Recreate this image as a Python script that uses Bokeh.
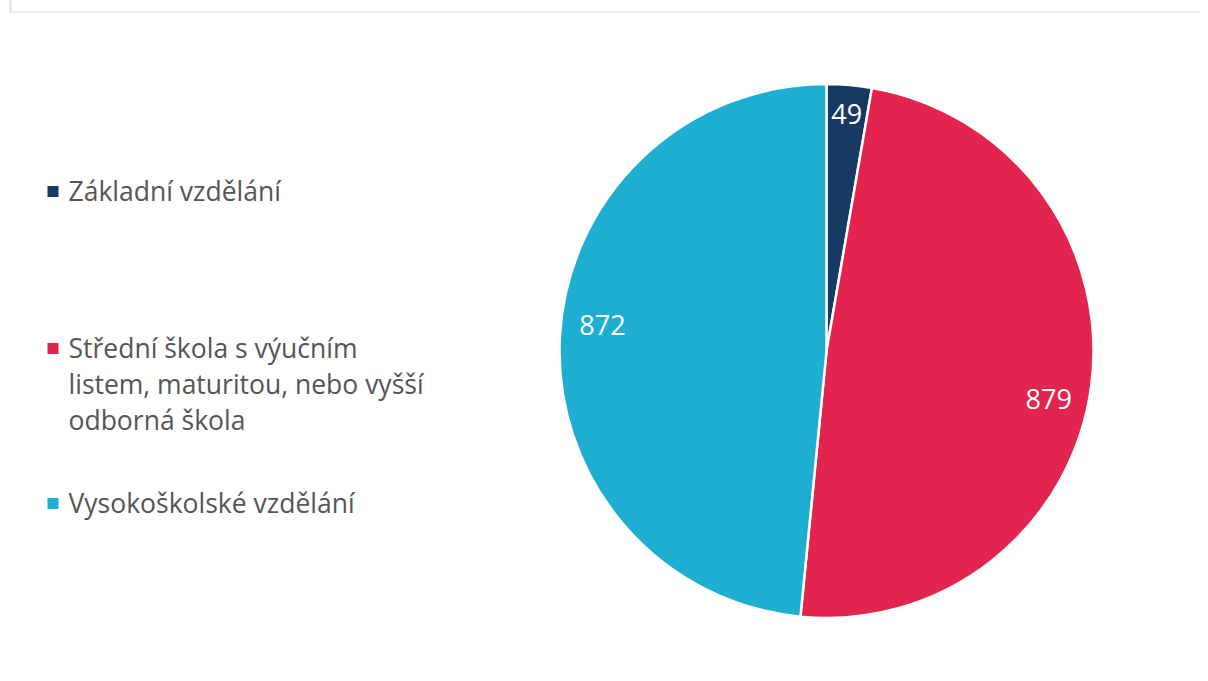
import math
from bokeh.plotting import figure
from bokeh.models import Range1d
from bokeh.core.properties import value
from bokeh.embed import file_html
from bokeh.resources import INLINE

# ---- data ----
categories = ["Základní vzdělání",
              "Střední škola s výučním listem, maturitou, nebo vyšší odborná škola",
              "Vysokoškolské vzdělání"]
legend_lines = [["Základní vzdělání"],
                ["Střední škola s výučním", "listem, maturitou, nebo vyšší", "odborná škola"],
                ["Vysokoškolské vzdělání"]]
values = [49, 879, 872]
colors = ["#173a65", "#e2244f", "#1eaed1"]
label_y_offsets = [0, 18, -15]   # style: label nudge in screen px

W, H = 1200, 673
FONT = "Open Sans"
OFF = 0

p = figure(width=W, height=H, output_backend="svg", toolbar_location=None,
           x_range=Range1d(0, W), y_range=Range1d(0, H), min_border=0)
p.axis.visible = False
p.grid.visible = False
p.outline_line_color = None
p.background_fill_color = "white"
p.border_fill_color = "white"

def py(page_y):
    return H - (page_y - OFF)

def px(page_x):
    return page_x - OFF

# container border (left + top)
p.segment(x0=[px(10), px(9)], y0=[py(-5), py(11.5)], x1=[px(10), px(1300)], y1=[py(11.5), py(11.5)],
          line_color="#dddddd", line_width=[2, 1])

# ---- pie ----
cx, cy, R = px(826), py(350.5), 267
total = sum(values)
cum = 0
starts, ends, lx, ly = [], [], [], []
for v in values:
    a0 = math.pi / 2 - 2 * math.pi * cum / total
    cum += v
    a1 = math.pi / 2 - 2 * math.pi * cum / total
    starts.append(a0)
    ends.append(a1)
    mid = (a0 + a1) / 2
    r = R * (0.89 if v / total < 0.1 else 0.84)
    lx.append(cx + r * math.cos(mid))
    ly.append(cy + r * math.sin(mid))

p.wedge(x=cx, y=cy, radius=R, start_angle=starts, end_angle=ends, direction="clock",
        fill_color=colors, line_color="white", line_width=2.5)

p.text(x=lx, y=ly, text=[str(v) for v in values], text_color="white",
       text_font=value(FONT), text_font_size="27px", text_align="center",
       text_baseline="middle", y_offset=label_y_offsets)

# ---- legend ----
entry_tops = [190, 347, 502]
line_h = 36
tx, ty, tt = [], [], []
for top, lines in zip(entry_tops, legend_lines):
    for i, s in enumerate(lines):
        tx.append(px(68))
        ty.append(py(top + i * line_h))
        tt.append(s)
p.scatter(x=[px(52.5)] * 3, y=[py(t + 1) for t in entry_tops], marker="square", size=11,
          fill_color=colors, line_color=None)
p.text(x=tx, y=ty, text=tt, text_color="#555555", text_font=value(FONT),
       text_font_size="26.5px", text_align="left", text_baseline="middle")

open("out.html", "w").write(file_html(p, INLINE))
